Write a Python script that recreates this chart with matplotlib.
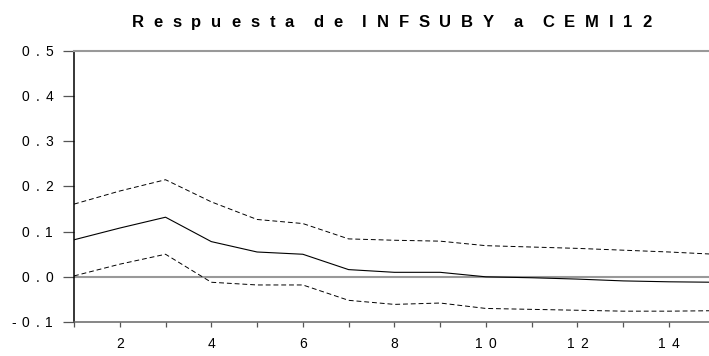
import matplotlib
matplotlib.use("Agg")
import matplotlib.pyplot as plt
from matplotlib.font_manager import FontProperties, findfont
from matplotlib.ft2font import FT2Font
from matplotlib.transforms import offset_copy, IdentityTransform

plt.rcParams["font.family"] = ["Liberation Sans", "DejaVu Sans"]

# Impulse response of INFSUBY to a CEMI12 shock, with +/- 2 s.e. bands
periods = list(range(1, 16))
response = [0.082, 0.108, 0.132, 0.078, 0.055, 0.050, 0.016, 0.010, 0.010,
            0.000, -0.002, -0.005, -0.009, -0.011, -0.012]
upper = [0.161, 0.190, 0.215, 0.166, 0.127, 0.118, 0.084, 0.081, 0.079,
         0.069, 0.066, 0.063, 0.059, 0.055, 0.050]
lower = [0.002, 0.028, 0.050, -0.012, -0.018, -0.018, -0.052, -0.061, -0.058,
         -0.070, -0.072, -0.074, -0.076, -0.076, -0.075]

y_ticks = [-0.1, 0.0, 0.1, 0.2, 0.3, 0.4, 0.5]
y_labels = ["-0.1", "0.0", "0.1", "0.2", "0.3", "0.4", "0.5"]
x_ticks = [2, 4, 6, 8, 10, 12, 14]
x_labels = ["2", "4", "6", "8", "10", "12", "14"]
title = "Respuesta de INFSUBY a CEMI12"

DPI = 100
fig = plt.figure(figsize=(7.09, 3.56), dpi=DPI)
W, H = 709, 356
ax = fig.add_axes([74 / W, 1 - 322 / H, (714.7 - 74) / W, (322 - 51) / H])


def advances(text, size, weight):
    fp = FontProperties(family="Liberation Sans", weight=weight, size=size)
    font = FT2Font(findfont(fp))
    font.set_size(size, DPI)
    return [0.0 if c == " " else font.load_char(ord(c)).linearHoriAdvance / 65536
            for c in text]


def tracked_text(x, y, text, transform, dx=0.0, dy=0.0, size=10,
                 weight="normal", track=6.0, ha="left"):
    """Draw text letter by letter with extra spacing (in pixels)."""
    adv = advances(text, size, weight)
    total = sum(adv) + track * (len(text) - 1)
    pos = {"left": 0.0, "center": -total / 2, "right": -total}[ha]
    for c, a in zip(text, adv):
        if c != " ":
            tr = offset_copy(transform, fig=fig, x=dx + pos, y=dy, units="dots")
            fig.text(x, y, c, transform=tr, ha="left", va="baseline",
                     fontsize=size, fontweight=weight, color="black")
        pos += a + track


ax.axhline(0, color="#999999", lw=1.5, zorder=1)
ax.plot(periods, response, color="black", lw=0.8, zorder=3)
ax.plot(periods, upper, color="black", lw=0.7, dashes=(5, 3), zorder=3)
ax.plot(periods, lower, color="black", lw=0.7, dashes=(5, 3), zorder=3)

ax.set_xlim(1, 15)
ax.set_ylim(-0.1, 0.5)

ax.set_yticks(y_ticks)
ax.set_yticklabels([])
ax.set_xticks(x_ticks)
ax.set_xticklabels([])
ax.set_xticks(periods, minor=True)

ax.tick_params(axis="y", direction="out", length=8, width=0.9, color="#555555")
ax.tick_params(axis="x", which="both", direction="out", length=3.6, width=0.9,
               color="#555555")

ax.spines["right"].set_visible(False)
ax.spines["top"].set_color("#999999")
ax.spines["top"].set_linewidth(1.5)
ax.spines["left"].set_color("black")
ax.spines["left"].set_linewidth(1.1)
ax.spines["bottom"].set_color("#666666")
ax.spines["bottom"].set_linewidth(1.1)

# Spaced-out tick labels
ytr = ax.get_yaxis_transform()
for v, lab in zip(y_ticks, y_labels):
    tracked_text(0, v, lab, ytr, dx=-21, dy=-5, size=10, track=6, ha="right")
xtr = ax.get_xaxis_transform()
for v, lab in zip(x_ticks, x_labels):
    tracked_text(v, 0, lab, xtr, dx=0, dy=-25.5, size=10, track=6, ha="center")

# Spaced-out bold title
tracked_text(391.5, H - 27.3, title, IdentityTransform(), size=12,
             weight="bold", track=9.8, ha="center")

fig.savefig("out.png", dpi=DPI)
